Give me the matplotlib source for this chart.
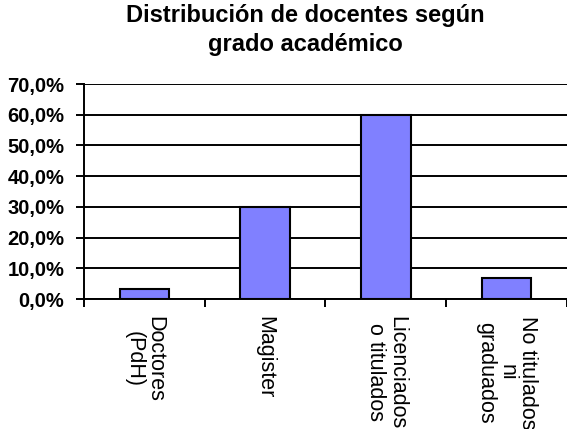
import numpy as np
import matplotlib.pyplot as plt
from matplotlib.ticker import FuncFormatter, MultipleLocator

plt.rcParams['font.family'] = ['Liberation Sans', 'DejaVu Sans']

# grado académico de los docentes (porcentaje)
categorias = ["Doctores\n(PdH)", "Magister", "Licenciados\no titulados",
              "No titulados\nni\ngraduados"]
porcentajes = [3.3, 30.0, 60.0, 6.7]

fig = plt.figure(figsize=(5.67, 4.29), dpi=100)
ax = fig.add_axes([0.148, 0.303, 0.852, 0.501])

x = np.arange(len(categorias))
ax.bar(x, porcentajes, width=0.41, color='#8080ff', edgecolor='black',
       linewidth=1.5, zorder=3)

ax.set_xlim(-0.5, len(categorias) - 0.5)
ax.set_ylim(0, 70)
ax.yaxis.set_major_locator(MultipleLocator(10))
ax.yaxis.set_major_formatter(FuncFormatter(lambda v, p: f"{v:.1f}%".replace('.', ',')))
ax.grid(axis='y', color='black', linewidth=1.4, zorder=0)

# marcas entre categorias, etiquetas en el centro
ax.set_xticks(x)
ax.set_xticklabels(categorias, rotation=270, fontsize=15.5, ha='center',
                   va='top', multialignment='center', linespacing=1.0)
ax.set_xticks(np.arange(-0.5, len(categorias)), minor=True)
ax.tick_params(axis='x', which='major', length=0, pad=12)
ax.tick_params(axis='x', which='minor', length=6, width=1.4, direction='out')
ax.tick_params(axis='y', length=6, width=1.4, pad=8)
for lab in ax.get_yticklabels():
    lab.set_fontweight('bold')
    lab.set_fontsize(14.5)

for s in ['top', 'right']:
    ax.spines[s].set_visible(False)
for s in ['left', 'bottom']:
    ax.spines[s].set_linewidth(1.4)

fig.suptitle("Distribución de docentes según\ngrado académico", fontsize=17,
             fontweight='bold', x=0.538, y=0.99, va='top', linespacing=1.3)

fig.savefig("out.png", dpi=100)
